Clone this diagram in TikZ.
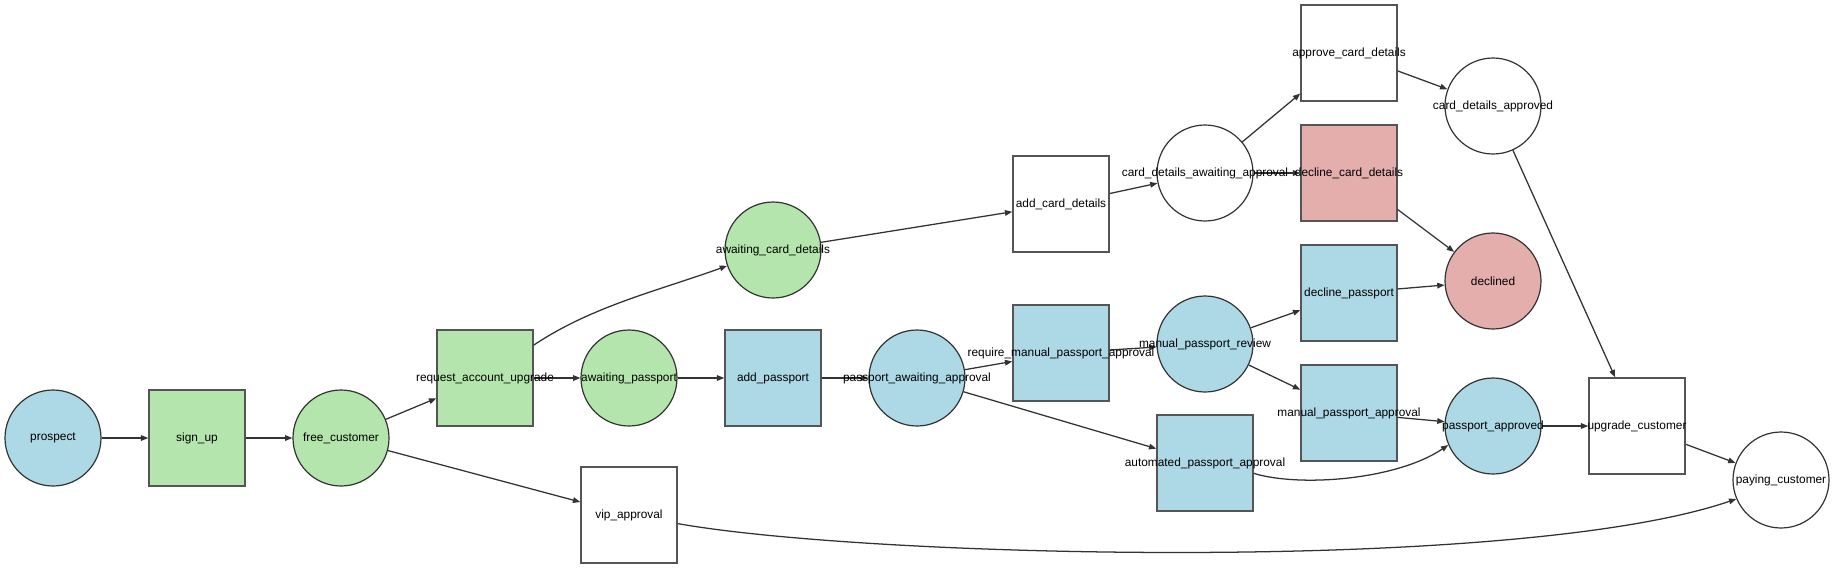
\documentclass[tikz,border=0pt]{standalone}
\usepackage{fontspec}
\setmainfont{Liberation Sans}
\usetikzlibrary{arrows.meta}

\definecolor{placeblue}{HTML}{ADD8E6}
\definecolor{placegreen}{HTML}{B4E5AC}
\definecolor{placered}{HTML}{E4AEAD}
\definecolor{edgegray}{HTML}{333333}
\definecolor{boxgray}{HTML}{555555}

\tikzset{
  place/.style={circle, draw=edgegray, line width=0.9pt, minimum size=72pt, inner sep=0pt},
  trans/.style={rectangle, draw=boxgray, line width=1.1pt, minimum width=72pt, minimum height=72pt, inner sep=0pt},
  conn/.style={draw=edgegray, line width=0.95pt, -{Triangle[length=5.5pt,width=4.2pt]}},
  txt/.style={inner sep=0pt, font=\fontsize{8.9}{10}\selectfont, text=black}
}

\begin{document}
\begin{tikzpicture}[x=0.75pt,y=0.75pt,yscale=-1,xscale=1]
\useasboundingbox (0,0) rectangle (1835,569);

%Shape: Circle
\node[place, fill=placeblue] (prospect) at (53,438) {};
%Shape: Square
\node[trans, fill=placegreen] (signup) at (197,438) {};
%Shape: Circle
\node[place, fill=placegreen] (free) at (341,438) {};
%Shape: Square
\node[trans, fill=placegreen] (req) at (485,378) {};
%Shape: Square
\node[trans, fill=white] (vip) at (629,515) {};
%Shape: Circle
\node[place, fill=placegreen] (awp) at (629,378) {};
%Shape: Circle
\node[place, fill=placegreen] (acd) at (773,250) {};
%Shape: Square
\node[trans, fill=placeblue] (addp) at (773,378) {};
%Shape: Circle
\node[place, fill=placeblue] (paa) at (917,378) {};
%Shape: Square
\node[trans, fill=white] (addc) at (1061,204) {};
%Shape: Square
\node[trans, fill=placeblue] (rmpa) at (1061,353) {};
%Shape: Circle
\node[place, fill=white] (cdaa) at (1205,173) {};
%Shape: Circle
\node[place, fill=placeblue] (mpr) at (1205,344) {};
%Shape: Square
\node[trans, fill=placeblue] (apa) at (1205,463) {};
%Shape: Square
\node[trans, fill=white] (acdet) at (1349,53) {};
%Shape: Square
\node[trans, fill=placered] (dcd) at (1349,173) {};
%Shape: Square
\node[trans, fill=placeblue] (dp) at (1349,293) {};
%Shape: Square
\node[trans, fill=placeblue] (mpa) at (1349,413) {};
%Shape: Circle
\node[place, fill=white] (cda) at (1493,106) {};
%Shape: Circle
\node[place, fill=placered] (declined) at (1493,281) {};
%Shape: Circle
\node[place, fill=placeblue] (pa) at (1493,426) {};
%Shape: Square
\node[trans, fill=white] (upg) at (1637,426) {};
%Shape: Circle
\node[place, fill=white] (paying) at (1781,480) {};

%Straight Lines
\draw[conn] (prospect) -- (signup);
\draw[conn] (signup) -- (free);
\draw[conn] (free) -- (req);
\draw[conn] (free) -- (vip);
\draw[conn] (req) -- (awp);
\draw[conn] (awp) -- (addp);
\draw[conn] (addp) -- (paa);
\draw[conn] (acd) -- (addc);
\draw[conn] (addc) -- (cdaa);
\draw[conn] (cdaa) -- (acdet);
\draw[conn] (cdaa) -- (dcd);
\draw[conn] (acdet) -- (cda);
\draw[conn] (dcd) -- (declined);
\draw[conn] (cda) -- (upg);
\draw[conn] (paa) -- (rmpa);
\draw[conn] (paa) -- (apa);
\draw[conn] (rmpa) -- (mpr);
\draw[conn] (mpr) -- (dp);
\draw[conn] (mpr) -- (mpa);
\draw[conn] (dp) -- (declined);
\draw[conn] (mpa) -- (pa);
\draw[conn] (pa) -- (upg);
\draw[conn] (upg) -- (paying);
%Curve Lines
\draw[conn] (req.34) .. controls +(58,-39) and +(-66,24) .. (acd.199);
%Curve Lines
\draw[conn] (apa.-12) .. controls +(46,14) and +(-52,35) .. (pa.203);
%Curve Lines
\draw[conn] (vip.-10) .. controls +(190,34) and +(-220,75) .. (paying.203);

% Text Node
\node[txt] (prospect-t) at (prospect) {prospect};
% Text Node
\node[txt] (signup-t) at (signup) {sign\_up};
% Text Node
\node[txt] (free-t) at (free) {free\_customer};
% Text Node
\node[txt] (req-t) at (req) {request\_account\_upgrade};
% Text Node
\node[txt] (vip-t) at (vip) {vip\_approval};
% Text Node
\node[txt] (awp-t) at (awp) {awaiting\_passport};
% Text Node
\node[txt] (acd-t) at (acd) {awaiting\_card\_details};
% Text Node
\node[txt] (addp-t) at (addp) {add\_passport};
% Text Node
\node[txt] (paa-t) at (paa) {passport\_awaiting\_approval};
% Text Node
\node[txt] (addc-t) at (addc) {add\_card\_details};
% Text Node
\node[txt] (rmpa-t) at (rmpa) {require\_manual\_passport\_approval};
% Text Node
\node[txt] (cdaa-t) at (cdaa) {card\_details\_awaiting\_approval};
% Text Node
\node[txt] (mpr-t) at (mpr) {manual\_passport\_review};
% Text Node
\node[txt] (apa-t) at (apa) {automated\_passport\_approval};
% Text Node
\node[txt] (acdet-t) at (acdet) {approve\_card\_details};
% Text Node
\node[txt] (dcd-t) at (dcd) {decline\_card\_details};
% Text Node
\node[txt] (dp-t) at (dp) {decline\_passport};
% Text Node
\node[txt] (mpa-t) at (mpa) {manual\_passport\_approval};
% Text Node
\node[txt] (cda-t) at (cda) {card\_details\_approved};
% Text Node
\node[txt] (declined-t) at (declined) {declined};
% Text Node
\node[txt] (pa-t) at (pa) {passport\_approved};
% Text Node
\node[txt] (upg-t) at (upg) {upgrade\_customer};
% Text Node
\node[txt] (paying-t) at (paying) {paying\_customer};

\end{tikzpicture}
\end{document}
